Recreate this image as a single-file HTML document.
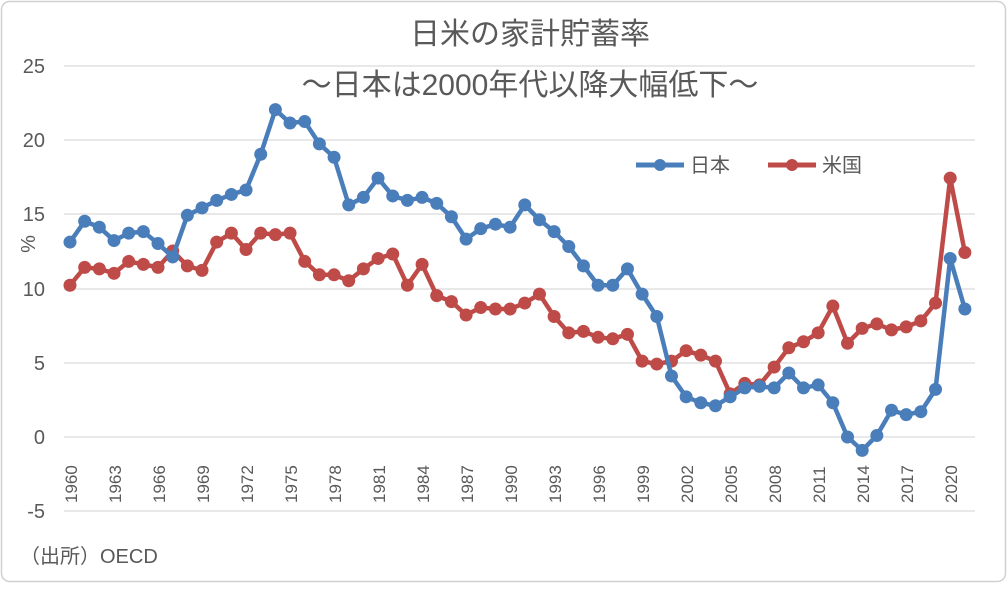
<!DOCTYPE html>
<html><head><meta charset="utf-8"><style>
html,body{margin:0;padding:0;background:#fff;}
body{width:1008px;height:584px;overflow:hidden;font-family:"Liberation Sans","Noto Sans CJK JP",sans-serif;}
</style></head><body>
<svg id="c" width="1008" height="584" xmlns="http://www.w3.org/2000/svg" font-family="Liberation Sans, Noto Sans CJK JP, sans-serif">
<rect x="1.5" y="1.5" width="1004" height="580" rx="8" fill="#fff" stroke="#d0d0d0" stroke-width="1.5"/>
<g stroke="#d9d9d9" stroke-width="1.2">
<line x1="64" x2="975" y1="66" y2="66"/><line x1="64" x2="975" y1="140" y2="140"/>
<line x1="64" x2="975" y1="214" y2="214"/><line x1="64" x2="975" y1="289" y2="289"/>
<line x1="64" x2="975" y1="363" y2="363"/><line x1="64" x2="975" y1="437" y2="437"/>
<line x1="64" x2="975" y1="511" y2="511"/>
</g>
<g font-size="20" fill="#595959" text-anchor="end">
<text x="45" y="73">25</text><text x="45" y="147">20</text><text x="45" y="221">15</text>
<text x="45" y="296">10</text><text x="45" y="370">5</text><text x="45" y="444">0</text><text x="45" y="518">-5</text>
</g>
<text x="35" y="244" font-size="20" fill="#595959" text-anchor="middle" transform="rotate(-90 35 244)">%</text>
<g font-size="17" fill="#595959" text-anchor="end">
<text transform="translate(77,503) rotate(-90)" text-anchor="start">1960</text>
<text transform="translate(121,503) rotate(-90)" text-anchor="start">1963</text>
<text transform="translate(165,503) rotate(-90)" text-anchor="start">1966</text>
<text transform="translate(209,503) rotate(-90)" text-anchor="start">1969</text>
<text transform="translate(253,503) rotate(-90)" text-anchor="start">1972</text>
<text transform="translate(297,503) rotate(-90)" text-anchor="start">1975</text>
<text transform="translate(341,503) rotate(-90)" text-anchor="start">1978</text>
<text transform="translate(385,503) rotate(-90)" text-anchor="start">1981</text>
<text transform="translate(429,503) rotate(-90)" text-anchor="start">1984</text>
<text transform="translate(473,503) rotate(-90)" text-anchor="start">1987</text>
<text transform="translate(517,503) rotate(-90)" text-anchor="start">1990</text>
<text transform="translate(561,503) rotate(-90)" text-anchor="start">1993</text>
<text transform="translate(605,503) rotate(-90)" text-anchor="start">1996</text>
<text transform="translate(649,503) rotate(-90)" text-anchor="start">1999</text>
<text transform="translate(693,503) rotate(-90)" text-anchor="start">2002</text>
<text transform="translate(737,503) rotate(-90)" text-anchor="start">2005</text>
<text transform="translate(781,503) rotate(-90)" text-anchor="start">2008</text>
<text transform="translate(825,503) rotate(-90)" text-anchor="start">2011</text>
<text transform="translate(869,503) rotate(-90)" text-anchor="start">2014</text>
<text transform="translate(913,503) rotate(-90)" text-anchor="start">2017</text>
<text transform="translate(957,503) rotate(-90)" text-anchor="start">2020</text>
</g>
<text x="530" y="44" font-size="30" fill="#595959" text-anchor="middle">日米の家計貯蓄率</text>
<text x="530" y="95" font-size="30" fill="#595959" text-anchor="middle">～日本は2000年代以降大幅低下～</text>
<g id="series"></g>
<line x1="636" x2="684" y1="165" y2="165" stroke="#4a7ebb" stroke-width="5"/>
<circle cx="660" cy="165" r="6" fill="#4a7ebb"/>
<text x="690" y="172" font-size="20" fill="#595959">日本</text>
<line x1="768" x2="816" y1="165" y2="165" stroke="#be4b48" stroke-width="5"/>
<circle cx="792" cy="165" r="6" fill="#be4b48"/>
<text x="822" y="172" font-size="20" fill="#595959">米国</text>
<text x="20" y="563" font-size="20" fill="#595959">（出所）OECD</text>
</svg>
<script>
var jp=[13.1,14.5,14.1,13.2,13.7,13.8,13.0,12.1,14.9,15.4,15.9,16.3,16.6,19.0,22.0,21.1,21.2,19.7,18.8,15.6,16.1,17.4,16.2,15.9,16.1,15.7,14.8,13.3,14.0,14.3,14.1,15.6,14.6,13.8,12.8,11.5,10.2,10.2,11.3,9.6,8.1,4.1,2.7,2.3,2.1,2.7,3.3,3.4,3.3,4.3,3.3,3.5,2.3,0.0,-0.9,0.1,1.8,1.5,1.7,3.2,12.0,8.6];
var us=[10.2,11.4,11.3,11.0,11.8,11.6,11.4,12.5,11.5,11.2,13.1,13.7,12.6,13.7,13.6,13.7,11.8,10.9,10.9,10.5,11.3,12.0,12.3,10.2,11.6,9.5,9.1,8.2,8.7,8.6,8.6,9.0,9.6,8.1,7.0,7.1,6.7,6.6,6.9,5.1,4.9,5.1,5.8,5.5,5.1,2.9,3.6,3.5,4.7,6.0,6.4,7.0,8.8,6.3,7.3,7.6,7.2,7.4,7.8,9.0,17.4,12.4];
var g=document.getElementById('series'),ns='http://www.w3.org/2000/svg';
function draw(d,col){var pts=d.map(function(v,i){return [70+i*14.67,437-14.88*v];});
var pl=document.createElementNS(ns,'polyline');pl.setAttribute('points',pts.map(function(p){return p.join(',')}).join(' '));
pl.setAttribute('fill','none');pl.setAttribute('stroke',col);pl.setAttribute('stroke-width','4.5');pl.setAttribute('stroke-linejoin','round');g.appendChild(pl);
pts.forEach(function(p){var c=document.createElementNS(ns,'circle');c.setAttribute('cx',p[0]);c.setAttribute('cy',p[1]);c.setAttribute('r','6.5');c.setAttribute('fill',col);g.appendChild(c);});}
draw(us,'#be4b48');draw(jp,'#4a7ebb');
</script>
</body></html>
